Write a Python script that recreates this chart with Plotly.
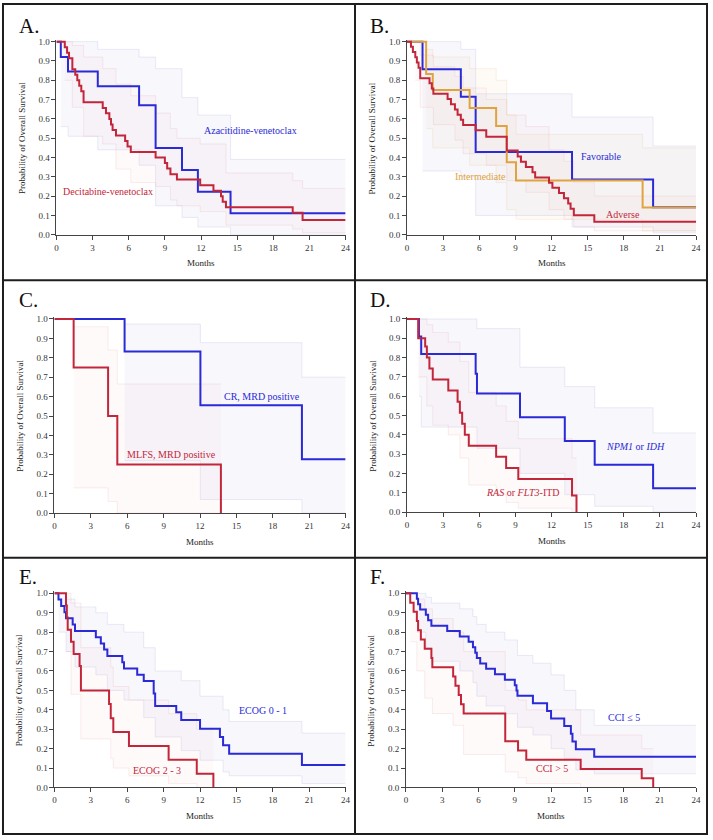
import plotly.graph_objects as go

# ---------------- data ----------------
# Panel A
A_aza_t = [0.36, 0.96, 3.43, 6.86, 8.23, 10.42, 11.74, 14.45]
A_aza_s = [0.92, 0.846, 0.769, 0.671, 0.449, 0.336, 0.223, 0.111]
A_aza_bt = [0.36, 0.96, 3.43, 6.86, 8.23, 10.42, 11.74, 14.45]
A_aza_lo = [0.56, 0.51, 0.44, 0.36, 0.15, 0.09, 0.04, 0.0]
A_aza_hi = [1.0, 1.0, 0.96, 0.92, 0.86, 0.71, 0.62, 0.39]

A_dec_t = [0.69, 0.88, 1.04, 1.32, 1.56, 1.73, 1.89, 2.06, 2.25, 3.84, 4.11, 4.39, 4.53, 4.66, 4.94,
           5.70, 5.90, 6.17, 8.23, 9.0, 9.19, 9.46, 10.0, 11.93, 13.03, 13.66, 13.8, 14.07, 19.61, 20.43]
A_dec_s = [0.971, 0.943, 0.914, 0.857, 0.829, 0.80, 0.771, 0.743, 0.686, 0.657, 0.629, 0.60, 0.571, 0.543, 0.514,
           0.486, 0.457, 0.429, 0.40, 0.371, 0.343, 0.314, 0.286, 0.257, 0.228, 0.20, 0.171, 0.143, 0.114, 0.076]
A_dec_bt = [0.69, 1.32, 2.25, 3.84, 4.94, 6.17, 8.23, 9.46, 10.0, 11.93, 14.07, 19.61, 20.43]
A_dec_lo = [0.80, 0.66, 0.51, 0.47, 0.34, 0.27, 0.25, 0.18, 0.15, 0.12, 0.05, 0.03, 0.01]
A_dec_hi = [1.0, 0.98, 0.92, 0.86, 0.78, 0.72, 0.63, 0.55, 0.50, 0.47, 0.32, 0.28, 0.24]

# Panel B
B_fav_t = [1.29, 4.47, 5.70, 13.70, 20.43]
B_fav_s = [0.857, 0.714, 0.429, 0.286, 0.143]
B_fav_bt = [1.29, 4.47, 5.70, 13.70, 20.43]
B_fav_lo = [0.33, 0.30, 0.10, 0.04, 0.01]
B_fav_hi = [1.0, 0.96, 0.73, 0.61, 0.46]

B_int_t = [1.59, 2.14, 5.20, 7.40, 8.28, 9.05, 19.56]
B_int_s = [0.833, 0.75, 0.656, 0.563, 0.375, 0.281, 0.141]
B_int_bt = [1.59, 2.14, 5.20, 7.40, 8.28, 9.05, 19.56]
B_int_lo = [0.55, 0.45, 0.36, 0.27, 0.13, 0.08, 0.02]
B_int_hi = [0.96, 0.92, 0.86, 0.80, 0.62, 0.52, 0.45]

B_adv_t = [0.33, 0.49, 0.69, 0.82, 0.96, 1.10, 1.87, 2.06, 2.19, 3.37, 3.65, 3.98, 4.20, 4.47, 4.66, 5.70,
           6.58, 8.28, 9.19, 9.46, 9.87, 10.42, 10.64, 11.79, 12.07, 12.62, 13.03, 13.38, 13.58, 13.85, 15.55]
B_adv_s = [0.973, 0.946, 0.919, 0.892, 0.865, 0.811, 0.784, 0.757, 0.730, 0.703, 0.676, 0.649, 0.622, 0.595, 0.568,
           0.541, 0.507, 0.436, 0.405, 0.378, 0.351, 0.324, 0.297, 0.27, 0.243, 0.216, 0.189, 0.162, 0.135, 0.101, 0.068]
B_adv_bt = [0.69, 1.10, 2.19, 3.98, 4.66, 6.58, 8.28, 9.87, 11.79, 13.03, 13.85, 15.55]
B_adv_lo = [0.80, 0.66, 0.57, 0.49, 0.42, 0.36, 0.28, 0.22, 0.13, 0.08, 0.04, 0.02]
B_adv_hi = [1.0, 0.93, 0.87, 0.82, 0.76, 0.70, 0.62, 0.56, 0.44, 0.38, 0.27, 0.20]

# Panel C
C_cr_t = [5.78, 12.03, 20.40]
C_cr_s = [0.833, 0.556, 0.278]
C_cr_bt = [5.78, 12.03, 20.40]
C_cr_lo = [0.27, 0.07, 0.0]
C_cr_hi = [0.974, 0.878, 0.70]

C_mlfs_t = [1.58, 4.42, 5.18, 13.72]
C_mlfs_s = [0.75, 0.5, 0.25, 0.0]
C_mlfs_bt = [1.58, 4.42, 5.18]
C_mlfs_lo = [0.13, 0.06, 0.0]
C_mlfs_hi = [0.96, 0.84, 0.665]

# Panel D
D_npm_t = [0.99, 1.18, 5.70, 5.81, 9.38, 13.10, 15.58, 20.43]
D_npm_s = [0.909, 0.818, 0.716, 0.614, 0.491, 0.368, 0.245, 0.123]
D_npm_bt = [0.99, 1.18, 5.81, 9.38, 13.10, 15.58, 20.43]
D_npm_lo = [0.60, 0.44, 0.33, 0.20, 0.09, 0.03, 0.0]
D_npm_hi = [1.0, 1.0, 0.95, 0.75, 0.65, 0.54, 0.41]

D_ras_t = [0.93, 1.51, 1.65, 1.86, 2.14, 3.43, 4.20, 4.39, 4.58, 4.80, 5.13, 7.40, 8.23, 9.24, 13.70, 14.07]
D_ras_s = [0.90, 0.857, 0.80, 0.743, 0.686, 0.629, 0.571, 0.514, 0.457, 0.40, 0.343, 0.286, 0.228, 0.171, 0.086, 0.0]
D_ras_bt = [0.93, 1.65, 2.14, 3.43, 4.39, 5.13, 7.40, 8.23, 9.24, 13.70]
D_ras_lo = [0.70, 0.55, 0.45, 0.40, 0.28, 0.14, 0.09, 0.05, 0.02, 0.0]
D_ras_hi = [1.0, 0.97, 0.93, 0.88, 0.78, 0.62, 0.55, 0.47, 0.38, 0.28]

# Panel E
E_e01_t = [0.33, 0.55, 0.82, 0.95, 1.50, 1.69, 3.41, 3.82, 4.09, 4.36, 5.59, 5.73, 6.82, 7.36, 8.18, 8.30,
           10.04, 10.45, 12.00, 13.64, 13.90, 14.40, 20.40]
E_e01_s = [0.968, 0.935, 0.903, 0.871, 0.839, 0.806, 0.774, 0.742, 0.710, 0.677, 0.645, 0.613, 0.581, 0.548,
           0.484, 0.42, 0.387, 0.347, 0.303, 0.26, 0.217, 0.173, 0.116]
E_e01_bt = [0.33, 0.95, 1.69, 3.41, 4.36, 5.73, 7.36, 8.30, 10.45, 12.00, 13.90, 14.40, 20.40]
E_e01_lo = [0.80, 0.70, 0.62, 0.58, 0.50, 0.45, 0.36, 0.26, 0.19, 0.14, 0.08, 0.06, 0.02]
E_e01_hi = [1.0, 0.97, 0.93, 0.90, 0.84, 0.80, 0.72, 0.60, 0.55, 0.47, 0.40, 0.34, 0.28]

E_e23_t = [0.95, 1.02, 1.09, 1.36, 1.58, 2.07, 2.18, 4.50, 4.64, 4.85, 6.14, 9.41, 11.73, 13.10]
E_e23_s = [0.9375, 0.875, 0.8125, 0.75, 0.6875, 0.625, 0.50, 0.43, 0.357, 0.286, 0.214, 0.143, 0.071, 0.0]
E_e23_bt = [0.95, 1.36, 2.18, 4.64, 4.85, 6.14, 9.41, 11.73]
E_e23_lo = [0.70, 0.48, 0.25, 0.15, 0.10, 0.06, 0.02, 0.0]
E_e23_hi = [1.0, 0.95, 0.72, 0.62, 0.52, 0.45, 0.38, 0.30]

# Panel F
F_le5_t = [0.90, 1.00, 1.17, 1.64, 1.83, 2.10, 3.41, 4.45, 5.18, 5.54, 5.73, 5.86, 6.14, 6.63, 7.36, 8.18,
           9.00, 9.14, 9.22, 10.50, 11.67, 12.00, 13.09, 13.64, 13.77, 14.05, 15.57]
F_le5_s = [0.972, 0.944, 0.917, 0.889, 0.861, 0.833, 0.806, 0.778, 0.75, 0.722, 0.694, 0.667, 0.639, 0.611,
           0.583, 0.555, 0.527, 0.50, 0.472, 0.434, 0.394, 0.355, 0.316, 0.276, 0.237, 0.197, 0.158]
F_le5_bt = [0.90, 1.64, 2.10, 4.45, 5.54, 5.86, 6.63, 8.18, 9.22, 10.50, 12.00, 13.09, 14.05, 15.57]
F_le5_lo = [0.80, 0.72, 0.65, 0.60, 0.54, 0.47, 0.42, 0.38, 0.31, 0.27, 0.20, 0.15, 0.09, 0.07]
F_le5_hi = [1.0, 0.98, 0.95, 0.92, 0.88, 0.84, 0.80, 0.76, 0.68, 0.64, 0.58, 0.50, 0.40, 0.32]

F_gt5_t = [0.35, 0.63, 0.90, 1.00, 1.23, 1.55, 2.10, 2.18, 3.90, 4.09, 4.36, 4.55, 4.77, 8.21, 9.27, 9.95,
           14.45, 19.50, 20.45]
F_gt5_s = [0.952, 0.905, 0.857, 0.810, 0.762, 0.714, 0.667, 0.619, 0.571, 0.524, 0.476, 0.429, 0.381, 0.238,
           0.190, 0.143, 0.095, 0.048, 0.0]
F_gt5_bt = [0.35, 0.90, 1.55, 2.18, 3.90, 4.77, 8.21, 9.27, 9.95, 14.45, 19.50]
F_gt5_lo = [0.75, 0.60, 0.46, 0.38, 0.32, 0.17, 0.08, 0.05, 0.02, 0.0, 0.0]
F_gt5_hi = [1.0, 0.97, 0.92, 0.87, 0.80, 0.70, 0.50, 0.45, 0.40, 0.27, 0.20]

x_ticks = [0, 3, 6, 9, 12, 15, 18, 21, 24]
y_ticks = [0.0, 0.1, 0.2, 0.3, 0.4, 0.5, 0.6, 0.7, 0.8, 0.9, 1.0]
panel_letters = ["A.", "B.", "C.", "D.", "E.", "F."]
y_title = "Probability of Overall Survival"
x_title = "Months"

# ---------------- styling ----------------
W, H = 713, 840
SERIF = "Liberation Serif, Times New Roman, serif"
BLUE = "#2a2ad6"
RED = "#c2263a"
ORANGE = "#e0a340"
BAND = {
    BLUE: ("rgba(140,140,215,0.07)", "rgba(150,150,215,0.18)"),
    RED: ("rgba(240,165,165,0.06)", "rgba(235,160,160,0.20)"),
    ORANGE: ("rgba(240,200,140,0.07)", "rgba(235,190,120,0.20)"),
}

def px(x):
    return x / W

def py(y):
    return 1 - y / H

YMAX = 1.01
# (left px, right px, px of y=1.0, px of y=0.0)
GEOM = [
    (55, 347, 39, 234),
    (409, 701, 39, 234),
    (53, 347, 319, 515),
    (409, 701, 319, 514),
    (53, 347, 596, 792),
    (408, 701, 596, 792),
]

panels = [
    [(A_aza_t, A_aza_s, A_aza_bt, A_aza_lo, A_aza_hi, BLUE),
     (A_dec_t, A_dec_s, A_dec_bt, A_dec_lo, A_dec_hi, RED)],
    [(B_fav_t, B_fav_s, B_fav_bt, B_fav_lo, B_fav_hi, BLUE),
     (B_int_t, B_int_s, B_int_bt, B_int_lo, B_int_hi, ORANGE),
     (B_adv_t, B_adv_s, B_adv_bt, B_adv_lo, B_adv_hi, RED)],
    [(C_cr_t, C_cr_s, C_cr_bt, C_cr_lo, C_cr_hi, BLUE),
     (C_mlfs_t, C_mlfs_s, C_mlfs_bt, C_mlfs_lo, C_mlfs_hi, RED)],
    [(D_npm_t, D_npm_s, D_npm_bt, D_npm_lo, D_npm_hi, BLUE),
     (D_ras_t, D_ras_s, D_ras_bt, D_ras_lo, D_ras_hi, RED)],
    [(E_e01_t, E_e01_s, E_e01_bt, E_e01_lo, E_e01_hi, BLUE),
     (E_e23_t, E_e23_s, E_e23_bt, E_e23_lo, E_e23_hi, RED)],
    [(F_le5_t, F_le5_s, F_le5_bt, F_le5_lo, F_le5_hi, BLUE),
     (F_gt5_t, F_gt5_s, F_gt5_bt, F_gt5_lo, F_gt5_hi, RED)],
]

# series labels: (text, x, y, colour) in data coordinates
labels = [
    [("Azacitidine-venetoclax", 12.07, 0.54, BLUE), ("Decitabine-venetoclax", 0.41, 0.226, RED)],
    [("Favorable", 14.26, 0.405, BLUE), ("Intermediate", 3.78, 0.304, ORANGE), ("Adverse", 16.32, 0.105, RED)],
    [("CR, MRD positive", 13.77, 0.601, BLUE), ("MLFS, MRD positive", 5.81, 0.303, RED)],
    [("<i>NPM1</i> or <i>IDH</i>", 16.32, 0.342, BLUE), ("<i>RAS</i> or <i>FLT3</i>-ITD", 6.36, 0.101, RED)],
    [("ECOG 0 - 1", 15.05, 0.397, BLUE), ("ECOG 2 - 3", 6.27, 0.085, RED)],
    [("CCI ≤ 5", 16.58, 0.358, BLUE), ("CCI > 5", 10.58, 0.099, RED)],
]

letter_pos = [(16, 23), (371, 23), (16, 300), (371, 300), (16, 580), (371, 580)]


def curve_end(t, s):
    return t[-1] if s[-1] == 0 else 24


fig = go.Figure()
annotations = []
layout = {}

for i, (series, geom) in enumerate(zip(panels, GEOM)):
    k = "" if i == 0 else str(i + 1)
    xa, ya = "x" + k, "y" + k
    left, right, ytop, ybot = geom
    top_px = ytop - (YMAX - 1.0) * (ybot - ytop)
    layout["xaxis" + k] = dict(
        domain=[px(left), px(right)], anchor=ya, range=[0, 24],
        tickvals=x_ticks, ticktext=[str(v) for v in x_ticks],
        showline=True, linecolor="#444", linewidth=1, ticks="outside", ticklen=4,
        tickwidth=1, tickcolor="#444", showgrid=False, zeroline=False,
        tickfont=dict(family=SERIF, size=9, color="#333"),
    )
    layout["yaxis" + k] = dict(
        domain=[py(ybot), py(top_px)], anchor=xa, range=[0, YMAX],
        tickvals=y_ticks, ticktext=[f"{v:.1f}" for v in y_ticks],
        showline=True, linecolor="#444", linewidth=1, ticks="outside", ticklen=4,
        tickwidth=1, tickcolor="#444", showgrid=False, zeroline=False,
        tickfont=dict(family=SERIF, size=9, color="#333"),
    )
    # confidence bands
    for t, s, bt, lo, hi, col in series:
        end = curve_end(t, s)
        bx = list(bt) + [end]
        fill, edge = BAND[col]
        fig.add_trace(go.Scatter(x=bx, y=list(lo) + [lo[-1]], mode="lines", line_shape="hv",
                                 line=dict(color=edge, width=1), xaxis=xa, yaxis=ya,
                                 hoverinfo="skip", showlegend=False))
        fig.add_trace(go.Scatter(x=bx, y=list(hi) + [hi[-1]], mode="lines", line_shape="hv",
                                 line=dict(color=edge, width=1), fill="tonexty", fillcolor=fill,
                                 xaxis=xa, yaxis=ya, hoverinfo="skip", showlegend=False))
    # survival curves
    for t, s, bt, lo, hi, col in series:
        end = curve_end(t, s)
        fig.add_trace(go.Scatter(x=[0] + list(t) + [end], y=[1.0] + list(s) + [s[-1]],
                                 mode="lines", line_shape="hv", line=dict(color=col, width=2),
                                 xaxis=xa, yaxis=ya, showlegend=False))
    for text, lx, ly, col in labels[i]:
        annotations.append(dict(text=text, x=lx, y=ly, xref=xa, yref=ya, xanchor="left",
                                yanchor="middle", showarrow=False,
                                font=dict(family=SERIF, size=10, color=col)))
    # axis titles
    annotations.append(dict(text=y_title, x=px(left - 35), y=py((ytop + ybot) / 2), xref="paper",
                            yref="paper", textangle=-90, showarrow=False, xanchor="center",
                            yanchor="middle", font=dict(family=SERIF, size=9, color="#222")))
    annotations.append(dict(text=x_title, x=px((left + right) / 2), y=py(ybot + 29), xref="paper",
                            yref="paper", showarrow=False, xanchor="center", yanchor="middle",
                            font=dict(family=SERIF, size=9, color="#222")))
    lx, ly = letter_pos[i]
    annotations.append(dict(text=panel_letters[i], x=px(lx), y=py(ly), xref="paper", yref="paper",
                            showarrow=False, xanchor="left", yanchor="middle", borderpad=0,
                            font=dict(family=SERIF, size=21, color="#111")))

shapes = [
    dict(type="rect", xref="paper", yref="paper", x0=px(1), x1=px(712), y0=py(839), y1=py(1),
         line=dict(color="#1e1e1e", width=2)),
    dict(type="line", xref="paper", yref="paper", x0=px(356.5), x1=px(356.5), y0=py(839), y1=py(1),
         line=dict(color="#1e1e1e", width=2)),
    dict(type="line", xref="paper", yref="paper", x0=px(1), x1=px(712), y0=py(280), y1=py(280),
         line=dict(color="#1e1e1e", width=2)),
    dict(type="line", xref="paper", yref="paper", x0=px(1), x1=px(712), y0=py(560), y1=py(560),
         line=dict(color="#1e1e1e", width=2)),
]

fig.update_layout(
    width=W, height=H, margin=dict(l=0, r=0, t=0, b=0),
    paper_bgcolor="white", plot_bgcolor="white", showlegend=False,
    annotations=annotations, shapes=shapes, **layout,
)

fig.write_html(
    "out.html",
    config={"displayModeBar": False},
    post_script="document.body.style.margin='0';document.body.style.padding='0';"
                "document.body.style.overflow='hidden';",
)
